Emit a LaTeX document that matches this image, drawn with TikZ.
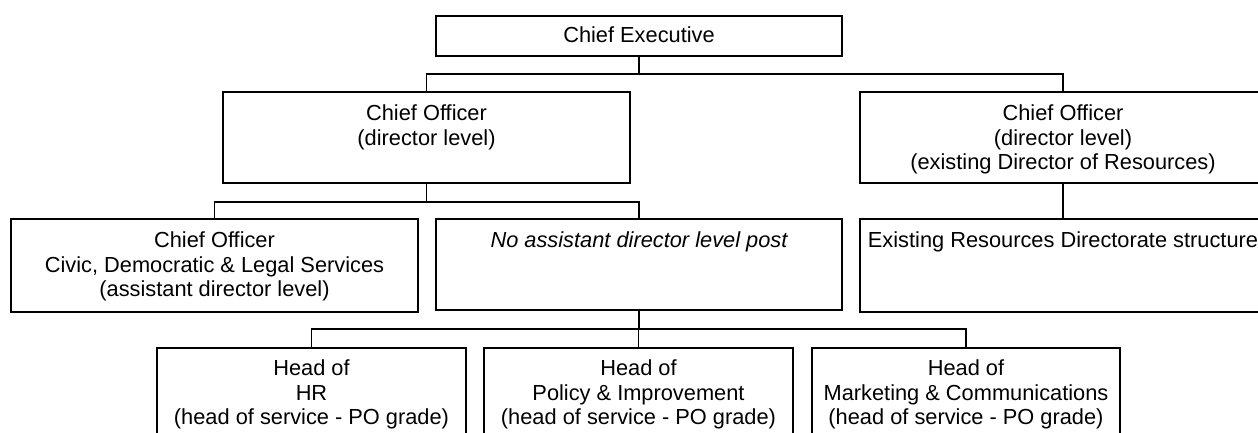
\documentclass[tikz,border=0pt]{standalone}
\usepackage{fontspec}
\setmainfont{Liberation Sans}
\begin{document}
\begin{tikzpicture}[x=1pt, y=-1pt, line width=1.3pt,
  orgbox/.style={draw=black, line width=1.3pt, inner sep=0pt, outer sep=0pt,
    anchor=north west},
  boxtext/.style={anchor=north, align=center, inner sep=0pt, yshift=-12.5pt,
    font=\fontsize{21.8}{24.5}\selectfont},
  link/.style={draw=black, line width=1.3pt}]
\useasboundingbox (0,0) rectangle (1258,432);
\clip (0,0) rectangle (1258,432);

% top level
\node[orgbox, minimum width=406pt, minimum height=40pt] (ce) at (436,16) {};
\node[font=\fontsize{21.8}{24.5}\selectfont, inner sep=0pt] (cetext) at ([yshift=1.5pt]ce.center) {Chief Executive};

% directors
\node[orgbox, minimum width=407pt, minimum height=91pt,
  label={[boxtext]north:{Chief Officer\\(director level)}}] (co1) at (223,92) {};
\node[orgbox, minimum width=406pt, minimum height=91pt,
  label={[boxtext]north:{Chief Officer\\(director level)\\(existing Director of Resources)}}] (co2) at (860,92) {};

% assistant director level
\node[orgbox, minimum width=407pt, minimum height=93pt,
  label={[boxtext]north:{Chief Officer\\Civic, Democratic \& Legal Services\\(assistant director level)}}] (civic) at (11,219) {};
\node[orgbox, minimum width=406pt, minimum height=91pt,
  label={[boxtext]north:{\itshape No assistant director level post}}] (noad) at (436,219) {};
\node[orgbox, minimum width=406pt, minimum height=93pt,
  label={[boxtext]north:{Existing Resources Directorate structure}}] (resdir) at (860,219) {};

% heads of service
\node[orgbox, minimum width=309pt, minimum height=94pt,
  label={[boxtext, yshift=1pt]north:{Head of\\HR\\(head of service - PO grade)}}] (hr) at (157,348) {};
\node[orgbox, minimum width=309pt, minimum height=94pt,
  label={[boxtext, yshift=1pt]north:{Head of\\Policy \& Improvement\\(head of service - PO grade)}}] (policy) at (484,348) {};
\node[orgbox, minimum width=308pt, minimum height=94pt,
  label={[boxtext, yshift=1pt]north:{Head of\\Marketing \& Communications\\(head of service - PO grade)}}] (mkt) at (812,348) {};

% connectors
\draw[link] (ce.south) -- ++(0,18) -| (co1.north);
\draw[link] (ce.south) -- ++(0,18) -| (co2.north);
\draw[link] (co1.south) -- ++(0,19) -| (civic.north);
\draw[link] (co1.south) -- ++(0,19) -| (noad.north);
\draw[link] (co2.south) -- (resdir.north);
\draw[link] (noad.south) -- ++(0,19) -| (hr.north);
\draw[link] (noad.south) -- ++(0,19) -| (policy.north);
\draw[link] (noad.south) -- ++(0,19) -| (mkt.north);
\end{tikzpicture}
\end{document}
